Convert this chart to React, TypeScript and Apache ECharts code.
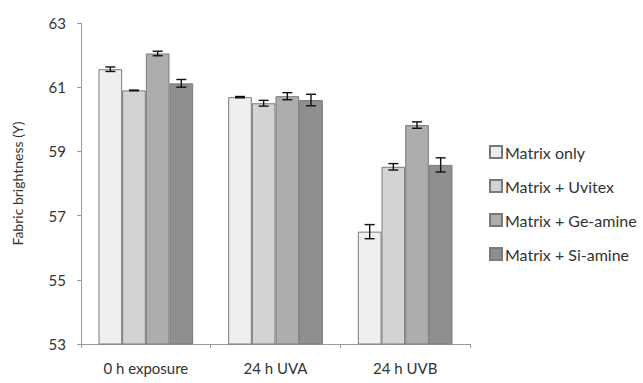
import React, { useEffect, useRef } from "react";
import * as echarts from "echarts";

const categories = ["0 h exposure", "24 h UVA", "24 h UVB"];
const seriesNames = ["Matrix only", "Matrix + Uvitex", "Matrix + Ge-amine", "Matrix + Si-amine"];
const matrixOnly = [61.56, 60.69, 56.5];
const matrixUvitex = [60.9, 60.5, 58.52];
const matrixGeAmine = [62.05, 60.72, 59.82];
const matrixSiAmine = [61.12, 60.6, 58.58];
const errMatrixOnly = [0.07, 0.02, 0.22];
const errUvitex = [0.01, 0.09, 0.1];
const errGeAmine = [0.07, 0.11, 0.1];
const errSiAmine = [0.12, 0.18, 0.22];
const yTicks = { min: 53, max: 63, interval: 2 };

const values = [matrixOnly, matrixUvitex, matrixGeAmine, matrixSiAmine];
const errors = [errMatrixOnly, errUvitex, errGeAmine, errSiAmine];
const colors = ["#efefef", "#d3d3d3", "#adadad", "#8f8f8f"];
const GAP = 0.27;
const FONT = "Lato, 'Open Sans', sans-serif";

export default function App() {
  const ref = useRef<HTMLDivElement>(null);
  useEffect(() => {
    if (!ref.current) return;
    const chart = echarts.init(ref.current, null, { renderer: "svg" });
    const n = seriesNames.length;
    const barSeries = seriesNames.map((name, i) => ({
      name,
      type: "bar",
      data: values[i],
      barGap: "0%",
      barCategoryGap: GAP * 100 + "%",
      itemStyle: { color: colors[i], borderColor: "#7a7a7a", borderWidth: 1 },
    }));
    const errSeries = seriesNames.map((name, i) => ({
      name: name + " err",
      type: "custom",
      data: values[i].map((v, j) => [j, v - errors[i][j], v + errors[i][j]]),
      z: 10,
      renderItem: (params: any, api: any) => {
        const c = api.value(0);
        const lo = api.coord([c, api.value(1)]);
        const hi = api.coord([c, api.value(2)]);
        const band = api.size([1, 0])[0];
        const bw = (band * (1 - GAP)) / n;
        const x = lo[0] + (i - (n - 1) / 2) * bw;
        const cap = 5;
        const style = { stroke: "#111", lineWidth: 1.4 };
        return {
          type: "group",
          children: [
            { type: "line", shape: { x1: x, y1: lo[1], x2: x, y2: hi[1] }, style },
            { type: "line", shape: { x1: x - cap, y1: lo[1], x2: x + cap, y2: lo[1] }, style },
            { type: "line", shape: { x1: x - cap, y1: hi[1], x2: x + cap, y2: hi[1] }, style },
          ],
        };
      },
    }));
    chart.setOption({
      animation: false,
      backgroundColor: "#ffffff",
      textStyle: { fontFamily: FONT },
      grid: { left: 81, right: 173, top: 23, bottom: 39 },
      legend: {
        data: seriesNames.map((name) => ({ name, icon: "rect" })),
        orient: "vertical",
        left: 484,
        top: 139,
        itemWidth: 12,
        itemHeight: 12,
        itemGap: 18,
        textStyle: { fontSize: 16, color: "#333", fontFamily: FONT, padding: [0, 0, 0, -2] },
      },
      xAxis: {
        type: "category",
        data: categories,
        axisLine: { lineStyle: { color: "#9a9a9a", width: 1 } },
        axisTick: { show: true, length: 4, lineStyle: { color: "#9a9a9a" } },
        axisLabel: { fontSize: 15, color: "#333", margin: 16, fontFamily: FONT },
      },
      yAxis: {
        type: "value",
        min: yTicks.min,
        max: yTicks.max,
        interval: yTicks.interval,
        name: "Fabric brightness (Y)",
        nameLocation: "middle",
        nameGap: 57,
        nameTextStyle: { fontSize: 14, color: "#333", fontFamily: FONT },
        axisLine: { show: true, lineStyle: { color: "#9a9a9a", width: 1 } },
        axisTick: { show: true, length: 4, lineStyle: { color: "#9a9a9a" } },
        axisLabel: { fontSize: 15, color: "#333", margin: 15, fontFamily: FONT },
        splitLine: { show: false },
      },
      series: [...barSeries, ...errSeries],
    });
    return () => chart.dispose();
  }, []);
  return <div ref={ref} style={{ width: 643, height: 383, position: "absolute", left: 0, top: 0 }} />;
}
